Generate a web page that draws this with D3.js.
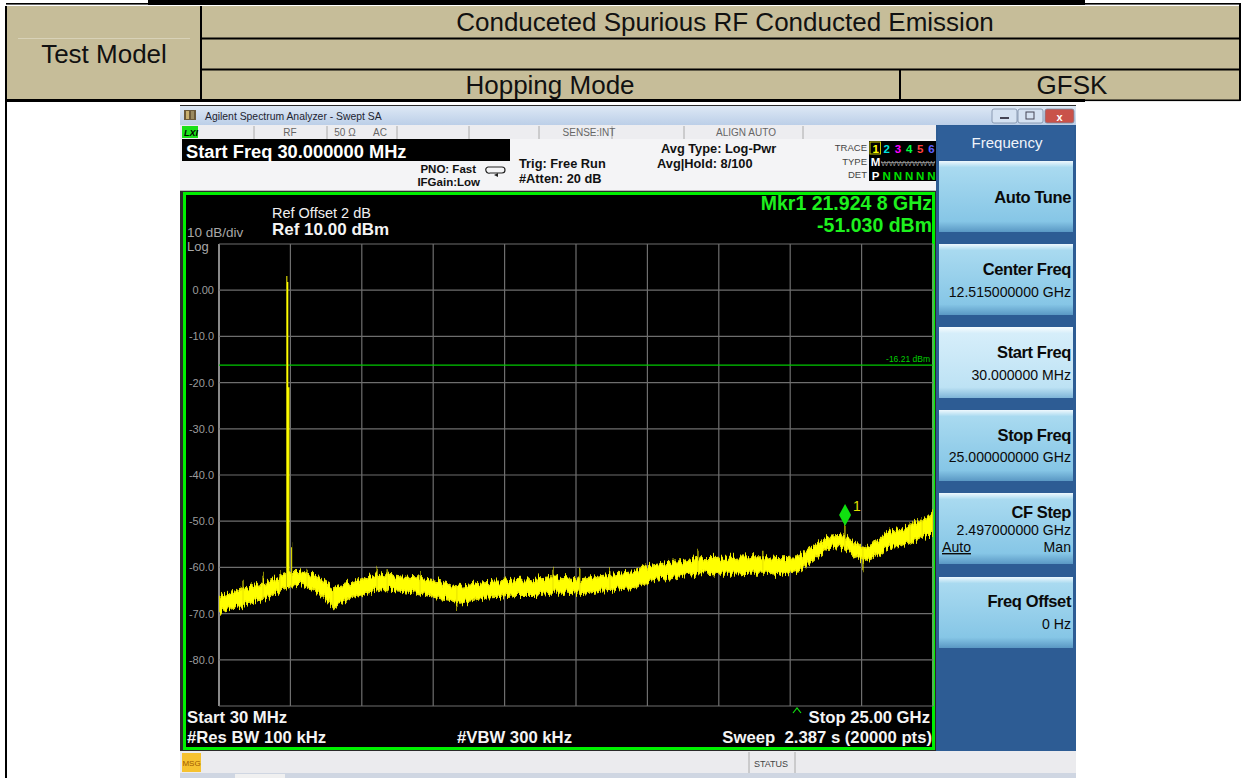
<!DOCTYPE html>
<html><head><meta charset="utf-8">
<script src="https://cdn.jsdelivr.net/npm/d3@7"></script>
<style>
html,body{margin:0;padding:0;background:#fff;}
svg{display:block;font-family:"Liberation Sans",Arial,Helvetica,sans-serif;}
</style>
</head><body>
<svg id="c" width="1246" height="778"></svg>
<script>
// ---- sweep settings ----
const startGHz = 0.03, stopGHz = 25.0;
const refLevel = 10, bottomLevel = -90;
const xDivisions = 10;
const yTickValues = [0, -10, -20, -30, -40, -50, -60, -70, -80];
const limitDbm = -16.21;

// ---- trace 1 noise floor envelope (GHz, max dBm, min dBm) ----
const envFreq = [0.03, 0.52, 1.11, 1.71, 2.27, 2.51, 2.86, 3.32, 3.67, 4.02, 4.26, 4.61, 5.21, 5.77,
  6.36, 6.95, 7.51, 8.11, 8.46, 9.26, 9.86, 10.45, 11.01, 11.61, 12.20, 12.76, 13.35, 13.95, 14.51,
  14.86, 15.70, 16.26, 16.85, 17.45, 18.01, 18.60, 19.19, 19.75, 20.34, 20.69, 21.29, 21.85, 22.20,
  22.55, 22.90, 23.39, 23.85, 24.30, 24.79, 25.0];
const envHigh = [-66.4, -65.3, -64.2, -63.2, -61.6, -61.0, -61.0, -61.6, -63.2, -64.5, -64.0, -63.4, -62.1, -61.4,
  -61.9, -62.1, -62.7, -63.8, -64.2, -63.4, -63.2, -62.7, -62.5, -62.1, -62.3, -62.7, -61.9, -61.4, -61.0,
  -59.9, -59.0, -58.8, -58.0, -57.9, -57.9, -57.8, -57.8, -58.0, -57.7, -55.8, -53.4, -53.0, -54.5,
  -56.2, -55.2, -52.3, -51.9, -50.8, -49.1, -48.0];
const envLow = [-69.7, -68.8, -67.7, -66.6, -64.7, -64.0, -63.8, -64.9, -66.4, -68.4, -67.7, -66.6, -65.5, -64.7,
  -65.1, -65.5, -66.4, -67.1, -67.7, -66.6, -66.4, -66.0, -66.0, -65.5, -65.5, -65.8, -65.1, -64.8, -64.5,
  -63.2, -62.3, -61.6, -61.0, -61.4, -61.4, -61.2, -61.2, -61.6, -60.6, -59.0, -55.8, -55.6, -57.3,
  -58.8, -58.0, -55.8, -55.6, -54.1, -53.0, -53.0];

// ---- isolated spurs rising above the floor (GHz, dBm) ----
const spurFreq = [0.87, 1.57, 2.16, 2.57, 3.11, 5.56, 5.91, 7.06, 11.71, 12.65, 13.70, 16.78, 19.05, 21.92, 24.20, 24.62];
const spurTop  = [-62.7, -61.6, -61.0, -55.2, -60.3, -60.1, -60.6, -61.0, -60.1, -60.1, -60.6, -56.2, -56.2, -51.03, -50.4, -49.1];

// ---- dips falling below the floor (GHz, dBm) ----
const dipFreq = [4.02, 8.35, 22.55];
const dipBottom = [-68.6, -68.8, -60.6];

// ---- hopping carrier (GHz, dBm) ----
const carrierFreq = [2.40, 2.43, 2.47];
const carrierTop = [3.1, 1.8, -21.0];

// ---- marker ----
const markerFreq = 21.9248, markerDbm = -51.03;

const svg = d3.select("#c");
const defs = svg.append("defs");

// ================= report table =================
const beige = "#c6bd99";
const tbl = svg.append("g");
tbl.append("rect").attr("x", 6).attr("y", 6).attr("width", 1234).attr("height", 94).attr("fill", beige);
tbl.append("rect").attr("x", 148).attr("y", 0).attr("width", 937).attr("height", 5).attr("fill", "#000");
tbl.append("rect").attr("x", 6).attr("y", 3).attr("width", 1234).attr("height", 1.6).attr("fill", "#000");
const tLines = [
  [6, 6, 6, 778], [1240, 3, 1240, 101], [201, 6, 201, 100], [900, 69, 900, 100],
  [201, 38.5, 1240, 38.5], [201, 69.5, 1240, 69.5]
];
tbl.selectAll("line.t").data(tLines).join("line")
  .attr("x1", d => d[0]).attr("y1", d => d[1]).attr("x2", d => d[2]).attr("y2", d => d[3])
  .attr("stroke", "#000").attr("stroke-width", 2);
tbl.append("line").attr("x1", 18).attr("x2", 190).attr("y1", 38.5).attr("y2", 38.5)
  .attr("stroke", "#d8d2b8").attr("stroke-width", 1);
tbl.append("rect").attr("x", 6).attr("y", 99).attr("width", 1079).attr("height", 3).attr("fill", "#000");
tbl.append("rect").attr("x", 1085).attr("y", 99.5).attr("width", 155).attr("height", 1.6).attr("fill", "#000");
const tTexts = [
  {t: "Conduceted Spurious RF Conducted Emission", x: 725, y: 31},
  {t: "Test Model", x: 104, y: 63},
  {t: "Hopping Mode", x: 550, y: 94},
  {t: "GFSK", x: 1072, y: 94}
];
tbl.selectAll("text").data(tTexts).join("text")
  .attr("x", d => d.x).attr("y", d => d.y).attr("text-anchor", "middle")
  .attr("font-size", 26).attr("fill", "#111").text(d => d.t);

// ================= analyzer window =================
const win = svg.append("g");
const tg = defs.append("linearGradient").attr("id", "titleG").attr("x1", 0).attr("y1", 0).attr("x2", 0).attr("y2", 1);
tg.append("stop").attr("offset", "0%").attr("stop-color", "#dde8f5");
tg.append("stop").attr("offset", "100%").attr("stop-color", "#bccfe8");
win.append("rect").attr("x", 180).attr("y", 105).attr("width", 896).attr("height", 673).attr("fill", "#2a2a2a");
win.append("rect").attr("x", 180).attr("y", 106).attr("width", 896).attr("height", 19).attr("fill", "url(#titleG)");
// app icon
win.append("rect").attr("x", 184).attr("y", 110).attr("width", 12).attr("height", 10).attr("fill", "#6b5a3a");
win.append("rect").attr("x", 186).attr("y", 111).attr("width", 3).attr("height", 8).attr("fill", "#c8b070");
win.append("rect").attr("x", 191).attr("y", 111).attr("width", 3).attr("height", 8).attr("fill", "#9a8a60");
win.append("text").attr("x", 205).attr("y", 119.5).attr("font-size", 10.4).attr("fill", "#1e2430")
  .text("Agilent Spectrum Analyzer - Swept SA");
// window buttons
const wb = [{x: 992, w: 25, c: "#d5e2f2"}, {x: 1018, w: 25, c: "#d5e2f2"}, {x: 1045, w: 29, c: "#c9524a"}];
win.selectAll("rect.wb").data(wb).join("rect").attr("class", "wb")
  .attr("x", d => d.x).attr("y", 109).attr("width", d => d.w).attr("height", 14).attr("rx", 2)
  .attr("fill", d => d.c).attr("stroke", "#7a8aa3").attr("stroke-width", 0.8);
win.append("rect").attr("x", 1000).attr("y", 117).attr("width", 9).attr("height", 2).attr("fill", "#445");
win.append("rect").attr("x", 1026).attr("y", 112).attr("width", 8).attr("height", 7).attr("fill", "none").attr("stroke", "#445").attr("stroke-width", 1);
win.append("text").attr("x", 1059.5).attr("y", 120.5).attr("text-anchor", "middle").attr("font-size", 11)
  .attr("font-weight", "bold").attr("fill", "#fff").text("x");

// status line
win.append("rect").attr("x", 180).attr("y", 125).attr("width", 756).attr("height", 14).attr("fill", "#ededf0");
win.append("rect").attr("x", 182).attr("y", 126).attr("width", 16).attr("height", 12).attr("fill", "#19e019");
win.append("text").attr("x", 184).attr("y", 136).attr("font-size", 9).attr("font-weight", "bold").attr("font-style", "italic")
  .attr("fill", "#000").text("LXI");
const dividers = [254, 327, 397, 469, 539, 612, 684, 803];
win.selectAll("line.dv").data(dividers).join("line")
  .attr("x1", d => d).attr("x2", d => d).attr("y1", 126).attr("y2", 139).attr("stroke", "#aaa").attr("stroke-width", 1);
const sTexts = [{t: "RF", x: 290}, {t: "50 Ω", x: 345}, {t: "AC", x: 380}, {t: "SENSE:INT", x: 589}, {t: "ALIGN AUTO", x: 746}];
win.selectAll("text.st").data(sTexts).join("text").attr("class", "st")
  .attr("x", d => d.x).attr("y", 136).attr("text-anchor", "middle").attr("font-size", 10).attr("fill", "#666").text(d => d.t);

// settings area
win.append("rect").attr("x", 180).attr("y", 139).attr("width", 756).attr("height", 52).attr("fill", "#f4f4f6");
win.append("rect").attr("x", 182).attr("y", 139).attr("width", 328).attr("height", 22).attr("fill", "#000");
win.append("text").attr("x", 186).attr("y", 157.5).attr("font-size", 18.3).attr("font-weight", "bold").attr("fill", "#fff")
  .text("Start Freq 30.000000 MHz");
const setTexts = [
  {t: "PNO: Fast", x: 476, y: 173, a: "end", s: 11.5},
  {t: "IFGain:Low", x: 480, y: 186, a: "end", s: 11.5},
  {t: "Trig: Free Run", x: 519, y: 168, a: "start", s: 12.8},
  {t: "#Atten: 20 dB", x: 519, y: 183, a: "start", s: 12.8},
  {t: "Avg Type: Log-Pwr", x: 661, y: 153, a: "start", s: 12.8},
  {t: "Avg|Hold: 8/100", x: 657, y: 168, a: "start", s: 12.8}
];
win.selectAll("text.se").data(setTexts).join("text").attr("class", "se")
  .attr("x", d => d.x).attr("y", d => d.y).attr("text-anchor", d => d.a)
  .attr("font-size", d => d.s).attr("font-weight", "bold").attr("fill", "#111").text(d => d.t);
// trigger icon
win.append("path").attr("d", "M488,167 h14 a3,3 0 0 1 0,6 h-12 a3,3 0 0 1 -2,-6 z")
  .attr("fill", "none").attr("stroke", "#222").attr("stroke-width", 1.2);
win.append("path").attr("d", "M494,175 l4,-2 l0,4 z").attr("fill", "#222");
// trace panel
const trLab = [{t: "TRACE", y: 151}, {t: "TYPE", y: 165}, {t: "DET", y: 178}];
win.selectAll("text.tl").data(trLab).join("text").attr("class", "tl")
  .attr("x", 867).attr("y", d => d.y).attr("text-anchor", "end").attr("font-size", 9.5).attr("fill", "#444").text(d => d.t);
win.append("rect").attr("x", 869).attr("y", 141).attr("width", 68).attr("height", 40).attr("fill", "#000");
const traceNums = ["1", "2", "3", "4", "5", "6"];
const traceCols = ["#ffff00", "#00e0e0", "#ff00ff", "#00ff40", "#ff4040", "#6060ff"];
const tx = d3.scaleBand().domain(traceNums).range([870, 937]);
win.append("rect").attr("x", 870).attr("y", 142).attr("width", 10.5).attr("height", 12).attr("fill", "none")
  .attr("stroke", "#c8c800").attr("stroke-width", 1);
win.selectAll("text.tn").data(traceNums).join("text").attr("class", "tn")
  .attr("x", d => tx(d) + tx.bandwidth() / 2).attr("y", 152.5).attr("text-anchor", "middle")
  .attr("font-size", 11.5).attr("font-weight", "bold").attr("fill", (d, i) => traceCols[i]).text(d => d);
win.append("text").attr("x", tx("1") + tx.bandwidth() / 2).attr("y", 166).attr("text-anchor", "middle")
  .attr("font-size", 11.5).attr("font-weight", "bold").attr("fill", "#fff").text("M");
win.append("text").attr("x", tx("1") + tx.bandwidth() / 2).attr("y", 179.5).attr("text-anchor", "middle")
  .attr("font-size", 11.5).attr("font-weight", "bold").attr("fill", "#fff").text("P");
win.append("text").attr("x", 881).attr("y", 165.5).attr("font-size", 8).attr("fill", "#999")
  .attr("textLength", 54).text("WWWWWWW");
win.append("line").attr("x1", 881).attr("x2", 935).attr("y1", 162.5).attr("y2", 162.5).attr("stroke", "#999").attr("stroke-width", 0.8);
win.selectAll("text.dn").data(traceNums.slice(1)).join("text").attr("class", "dn")
  .attr("x", d => tx(d) + tx.bandwidth() / 2).attr("y", 179.5).attr("text-anchor", "middle")
  .attr("font-size", 11.5).attr("font-weight", "bold").attr("fill", "#00e000").text("N");
win.append("line").attr("x1", 180).attr("x2", 936).attr("y1", 190.5).attr("y2", 190.5).attr("stroke", "#bbb");

// ================= soft-key panel =================
win.append("rect").attr("x", 936).attr("y", 125).attr("width", 140).attr("height", 627).attr("fill", "#2d5c94");
win.append("rect").attr("x", 938).attr("y", 126).attr("width", 136).attr("height", 34).attr("fill", "#2f5f99");
win.append("text").attr("x", 1007).attr("y", 148).attr("text-anchor", "middle").attr("font-size", 15)
  .attr("fill", "#f0f4fa").text("Frequency");
function btnGrad(id, c0, c1, c2, c3) {
  const g = defs.append("linearGradient").attr("id", id).attr("x1", 0).attr("y1", 0).attr("x2", 0).attr("y2", 1);
  g.append("stop").attr("offset", "0%").attr("stop-color", c0);
  g.append("stop").attr("offset", "9%").attr("stop-color", c1);
  g.append("stop").attr("offset", "85%").attr("stop-color", c2);
  g.append("stop").attr("offset", "100%").attr("stop-color", c3);
}
btnGrad("btnN", "#eef8fd", "#a9daf0", "#86c6e6", "#5a98c4");
btnGrad("btnS", "#f8fcfe", "#d6eefa", "#bde2f4", "#7fb5d8");
const buttons = [
  {y: 161, title: "Auto Tune", ty: 203, sub: null, sel: false},
  {y: 244, title: "Center Freq", ty: 275, sub: "12.515000000 GHz", sy: 297, sel: false},
  {y: 327, title: "Start Freq", ty: 358, sub: "30.000000 MHz", sy: 380, sel: true},
  {y: 410, title: "Stop Freq", ty: 441, sub: "25.000000000 GHz", sy: 462, sel: false},
  {y: 493, title: "CF Step", ty: 518, sub: "2.497000000 GHz", sy: 535, sel: false},
  {y: 577, title: "Freq Offset", ty: 607, sub: "0 Hz", sy: 629, sel: false}
];
const bg = win.selectAll("g.btn").data(buttons).join("g").attr("class", "btn");
bg.append("rect").attr("x", 939).attr("y", d => d.y).attr("width", 134).attr("height", 71)
  .attr("fill", d => d.sel ? "url(#btnS)" : "url(#btnN)");
bg.append("text").attr("x", 1071).attr("y", d => d.ty).attr("text-anchor", "end").attr("font-size", 16.5)
  .attr("font-weight", "bold").attr("fill", "#0a0a0a").attr("letter-spacing", -0.4).text(d => d.title);
bg.filter(d => d.sub).append("text").attr("x", 1071).attr("y", d => d.sy).attr("text-anchor", "end")
  .attr("font-size", 14.1).attr("fill", "#0a0a0a").text(d => d.sub);
win.append("text").attr("x", 942).attr("y", 552).attr("font-size", 14.1).attr("fill", "#0a0a0a")
  .attr("text-decoration", "underline").text("Auto");
win.append("text").attr("x", 1071).attr("y", 552).attr("text-anchor", "end").attr("font-size", 14.1)
  .attr("fill", "#0a0a0a").text("Man");

// bottom status bar
win.append("rect").attr("x", 180).attr("y", 751).attr("width", 896).attr("height", 22).attr("fill", "#ebebee");
win.append("rect").attr("x", 182).attr("y", 753).attr("width", 19).attr("height", 19).attr("fill", "#f6c230");
win.append("text").attr("x", 191.5).attr("y", 766).attr("text-anchor", "middle").attr("font-size", 8)
  .attr("fill", "#a05a00").text("MSG");
win.selectAll("line.sb").data([749, 795]).join("line").attr("x1", d => d).attr("x2", d => d)
  .attr("y1", 752).attr("y2", 773).attr("stroke", "#aaa");
win.append("text").attr("x", 771).attr("y", 767).attr("text-anchor", "middle").attr("font-size", 9)
  .attr("fill", "#444").text("STATUS");
win.append("rect").attr("x", 180).attr("y", 773).attr("width", 896).attr("height", 5).attr("fill", "#cfd6e2");
win.append("rect").attr("x", 235).attr("y", 774).attr("width", 50).attr("height", 4).attr("fill", "#f0f0f0");

// ================= measurement screen =================
win.append("rect").attr("x", 184.5).attr("y", 193.5).attr("width", 749).attr("height", 555)
  .attr("fill", "#000").attr("stroke", "#00f000").attr("stroke-width", 3);

const x = d3.scaleLinear().domain([startGHz, stopGHz]).range([219, 933]);
const y = d3.scaleLinear().domain([bottomLevel, refLevel]).range([706, 244]);
const plot = svg.append("g");

// graticule
const vDiv = d3.range(xDivisions + 1).map(i => startGHz + i * (stopGHz - startGHz) / xDivisions);
const hDiv = d3.range(bottomLevel, refLevel + 1, 10);
plot.selectAll("line.gv").data(vDiv).join("line")
  .attr("x1", d => x(d)).attr("x2", d => x(d)).attr("y1", y(refLevel)).attr("y2", y(bottomLevel))
  .attr("stroke", (d, i) => (i === 0 || i === xDivisions) ? "#8a8a8a" : "#6e6e6e")
  .attr("stroke-width", (d, i) => (i === 0) ? 2 : 1.2);
plot.selectAll("line.gh").data(hDiv).join("line")
  .attr("x1", x(startGHz)).attr("x2", x(stopGHz)).attr("y1", d => y(d)).attr("y2", d => y(d))
  .attr("stroke", "#6e6e6e").attr("stroke-width", 1.2);

// amplitude labels
const yAxis = d3.axisLeft(y).tickValues(yTickValues).tickSize(0).tickPadding(5)
  .tickFormat(v => v === 0 ? "0.00" : v.toFixed(1));
const ya = plot.append("g").attr("transform", `translate(${x(startGHz)},0)`).call(yAxis);
ya.select(".domain").remove();
ya.selectAll("text").attr("font-size", 11).attr("fill", "#9c9c9c")
  .attr("font-family", "'Liberation Sans', Arial, sans-serif");

// limit line
plot.append("line").attr("x1", x(startGHz)).attr("x2", x(stopGHz)).attr("y1", y(limitDbm)).attr("y2", y(limitDbm))
  .attr("stroke", "#00c800").attr("stroke-width", 1.2);
plot.append("text").attr("x", 930).attr("y", y(limitDbm) - 3).attr("text-anchor", "end").attr("font-size", 8.5)
  .attr("fill", "#00d000").text(limitDbm.toFixed(2) + " dBm");

// video noise texture for the swept trace
const nf = defs.append("filter").attr("id", "noisy").attr("x", "-2%").attr("y", "-60%")
  .attr("width", "104%").attr("height", "220%");
nf.append("feTurbulence").attr("type", "fractalNoise").attr("baseFrequency", "0.55 0.03")
  .attr("numOctaves", 2).attr("seed", 7).attr("result", "turb");
nf.append("feColorMatrix").attr("in", "turb").attr("type", "matrix")
  .attr("values", "0 0 0 0 0.5  0 1 0 0 0  0 0 0 0 0  0 0 0 0 1").attr("result", "map");
nf.append("feDisplacementMap").attr("in", "SourceGraphic").attr("in2", "map").attr("scale", 14)
  .attr("xChannelSelector", "R").attr("yChannelSelector", "G");

// trace 1
const traceClip = defs.append("clipPath").attr("id", "tc");
traceClip.append("rect").attr("x", 219).attr("y", 244).attr("width", 714).attr("height", 462);
const tr = plot.append("g").attr("clip-path", "url(#tc)");
const env = envFreq.map((f, i) => ({f, hi: envHigh[i], lo: envLow[i]}));
const bis = d3.bisector(d => d.f).left;
function envAt(f, key) {
  const i = Math.max(1, Math.min(env.length - 1, bis(env, f)));
  const a = env[i - 1], b = env[i];
  return a[key] + (b[key] - a[key]) * (f - a.f) / (b.f - a.f);
}
const band = tr.append("g").attr("filter", "url(#noisy)");
band.append("path").datum(env)
  .attr("d", d3.area().x(d => x(d.f)).y0(d => y(d.lo)).y1(d => y(d.hi)))
  .attr("fill", "#ffff00").attr("stroke", "#e6e000").attr("stroke-width", 1.8).attr("stroke-linejoin", "bevel");
// spurs and dips
band.selectAll("line.sp").data(spurFreq).join("line")
  .attr("x1", d => x(d)).attr("x2", d => x(d))
  .attr("y1", (d, i) => y(spurTop[i])).attr("y2", d => y(envAt(d, "lo")))
  .attr("stroke", "#e8e400").attr("stroke-width", 1.1);
band.selectAll("line.dp").data(dipFreq).join("line")
  .attr("x1", d => x(d)).attr("x2", d => x(d))
  .attr("y1", (d, i) => y(dipBottom[i])).attr("y2", d => y(envAt(d, "hi")))
  .attr("stroke", "#e8e400").attr("stroke-width", 1.1);
// carrier
tr.selectAll("line.car").data(carrierFreq).join("line")
  .attr("x1", d => x(d)).attr("x2", d => x(d))
  .attr("y1", (d, i) => y(carrierTop[i])).attr("y2", d => y(envAt(d, "lo")))
  .attr("stroke", (d, i) => i === 0 ? "#b8b400" : "#ffff00").attr("stroke-width", 1.4);

// marker 1
const mx = x(markerFreq), my = y(markerDbm);
plot.append("path").attr("d", `M${mx},${my} l-6,-11 l6,-11 l6,11 z`).attr("fill", "#10e010");
plot.append("text").attr("x", mx + 8).attr("y", my - 15).attr("font-size", 14).attr("fill", "#e0e000").text("1");
plot.append("path").attr("d", "M793,713 l4,-5 l4,5").attr("fill", "none").attr("stroke", "#10e010").attr("stroke-width", 1.2);

// screen annotations
const ann = [
  {t: "10 dB/div", x: 187, y: 237, s: 13.5, w: "normal", c: "#a8a8a8", a: "start"},
  {t: "Log", x: 187, y: 251, s: 13, w: "normal", c: "#a8a8a8", a: "start"},
  {t: "Ref Offset 2 dB", x: 272, y: 218, s: 14.5, w: "normal", c: "#f0f0f0", a: "start"},
  {t: "Ref 10.00 dBm", x: 272, y: 235, s: 17, w: "bold", c: "#f4f4f4", a: "start"},
  {t: "Mkr1 21.924 8 GHz", x: 932, y: 210, s: 19.5, w: "bold", c: "#1ef01e", a: "end"},
  {t: "-51.030 dBm", x: 932, y: 232, s: 19.5, w: "bold", c: "#1ef01e", a: "end"},
  {t: "Start 30 MHz", x: 187, y: 723, s: 16.7, w: "bold", c: "#f4f4f4", a: "start"},
  {t: "#Res BW 100 kHz", x: 187, y: 743, s: 16.7, w: "bold", c: "#f4f4f4", a: "start"},
  {t: "#VBW 300 kHz", x: 457, y: 743, s: 16.7, w: "bold", c: "#f4f4f4", a: "start"},
  {t: "Stop 25.00 GHz", x: 930, y: 723, s: 16.7, w: "bold", c: "#f4f4f4", a: "end"},
  {t: "Sweep  2.387 s (20000 pts)", x: 932, y: 743, s: 16.7, w: "bold", c: "#f4f4f4", a: "end"}
];
plot.selectAll("text.an").data(ann).join("text").attr("class", "an")
  .attr("x", d => d.x).attr("y", d => d.y).attr("text-anchor", d => d.a)
  .attr("font-size", d => d.s).attr("font-weight", d => d.w).attr("fill", d => d.c)
  .attr("xml:space", "preserve").style("white-space", "pre").text(d => d.t);
</script>
</body></html>
